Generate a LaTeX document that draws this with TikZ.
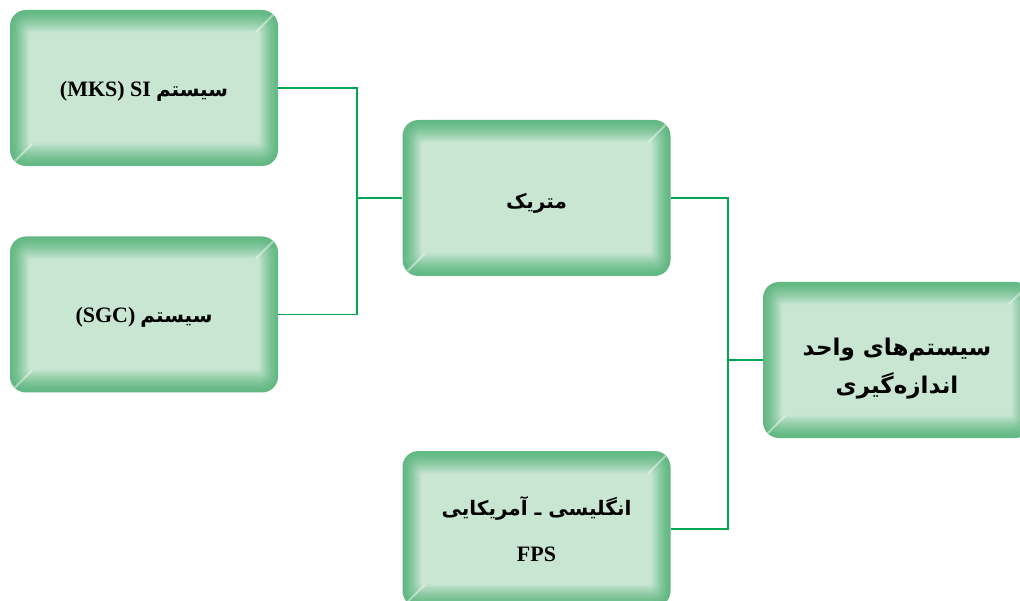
\documentclass[tikz,border=0pt]{standalone}
\usepackage{fontspec}
\setmainfont{Liberation Serif}
\newfontfamily\fa[Script=Arabic]{DejaVu Sans}
\TeXXeTstate=1
\usetikzlibrary{calc}
\definecolor{edgeg}{RGB}{98,184,131}
\definecolor{midg}{RGB}{201,230,211}
\definecolor{lineg}{RGB}{0,166,81}
\tikzset{
  bevelbox/.style={rounded corners=16pt, fill=edgeg, inner sep=0pt,
    minimum width=268pt, minimum height=156pt,
    path picture={
      \foreach \i in {1,...,18}{
        \pgfmathsetmacro\p{min(100,100*(\i/18)^1.4)}
        \fill[midg!\p!edgeg, rounded corners={max(2,16-0.8*\i)*1pt}]
          ($(path picture bounding box.south west)+(1.05*\i pt,1.25*\i pt)$) rectangle
          ($(path picture bounding box.north east)-(1.05*\i pt,1.25*\i pt)$);
      }
      \draw[white, opacity=0.45, line width=2pt]
        ($(path picture bounding box.north east)+(-5pt,-5pt)$) -- ++(-17pt,-17pt);
      \draw[white, opacity=0.45, line width=2pt]
        ($(path picture bounding box.south west)+(5pt,5pt)$) -- ++(17pt,17pt);
    }},
  txt/.style={inner sep=0pt, align=center, font=\bfseries\fontsize{20}{26}\selectfont},
  conn/.style={draw=lineg, line width=1.6pt}
}
\begin{document}
\begin{tikzpicture}[x=1pt,y=-1pt]
\clip (0,0) rectangle (1020,601);
\fill[white] (0,0) rectangle (1020,601);
\node[bevelbox] (b1) at (144,88) {};
\node[bevelbox] (b2) at (144,314.5) {};
\node[bevelbox] (b3) at (536.5,198) {};
\node[bevelbox] (b4) at (897,360) {};
\node[bevelbox] (b5) at (536.5,529) {};
\node[txt] (t1) at ([yshift=-3pt]b1.center) {{\fontsize{22}{26}\selectfont(MKS) SI} {\fa\beginR سیستم\endR}};
\node[txt] (t2) at ([yshift=-3pt]b2.center) {{\fontsize{22}{26}\selectfont(SGC)} {\fa\beginR سیستم\endR}};
\node[txt] (t3) at ([yshift=-5pt]b3.center) {\fa\beginR متریک\endR};
\node[txt, font=\bfseries\fontsize{23}{38}\selectfont] (t4) at ([yshift=-9pt]b4.center)
  {{\fa\beginR سیستم‌های واحد\endR}\\{\fa\beginR اندازه‌گیری\endR}};
\node[txt] (t5) at ([yshift=0pt]b5.center) {{\fa\beginR انگلیسی ـ آمریکایی\endR}\\[20pt]{\fontsize{22}{26}\selectfont FPS}};
\coordinate (j1) at (357,198);
\coordinate (j2) at (728,360);
\draw[conn] (b1.east) -| (j1) |- (b2.east);
\draw[conn] (j1) -- (b3.west);
\draw[conn] (b3.east) -| (j2) |- (b5.east);
\draw[conn] (j2) -- (b4.west);
\end{tikzpicture}
\end{document}
